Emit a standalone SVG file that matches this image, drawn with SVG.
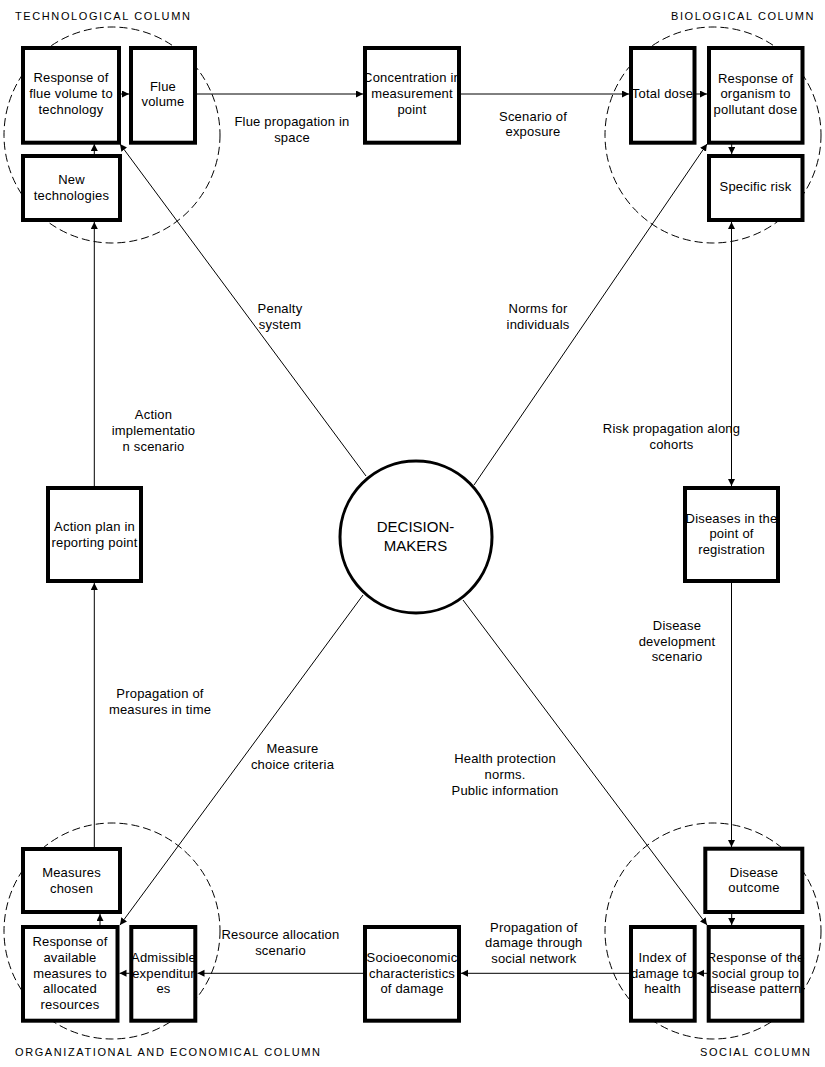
<svg xmlns="http://www.w3.org/2000/svg" width="825" height="1067" viewBox="0 0 825 1067">
<defs>
<marker id="ah" markerWidth="8" markerHeight="8" refX="7" refY="3.5" orient="auto-start-reverse" markerUnits="userSpaceOnUse">
<path d="M0,0 L7,3.5 L0,7 z" fill="#000"/>
</marker>
<style>
.box{fill:#fff;stroke:#000;stroke-width:4}
.zone{fill:none;stroke:#000;stroke-width:1;stroke-dasharray:8 4}
.con{fill:none;stroke:#000;stroke-width:1;marker-end:url(#ah)}
.t{font-family:"Liberation Sans",Arial,sans-serif;font-size:13px;letter-spacing:0.2px;text-anchor:middle;fill:#000}
.col{font-family:"Liberation Sans",Arial,sans-serif;font-size:11px;letter-spacing:1.6px;fill:#000}
.dm{font-family:"Liberation Sans",Arial,sans-serif;font-size:15px;text-anchor:middle;fill:#000}
</style>
</defs>
<rect width="825" height="1067" fill="#fff"/>

<g id="zones">
<circle class="zone" cx="112" cy="135" r="108"/>
<circle class="zone" cx="713" cy="135" r="108"/>
<circle class="zone" cx="112" cy="931" r="108"/>
<circle class="zone" cx="713" cy="931" r="108"/>
</g>

<g id="column-labels">
<text class="col" x="15" y="20">TECHNOLOGICAL COLUMN</text>
<text class="col" x="671" y="20">BIOLOGICAL COLUMN</text>
<text class="col" x="15" y="1056">ORGANIZATIONAL AND ECONOMICAL COLUMN</text>
<text class="col" x="700" y="1056">SOCIAL COLUMN</text>
</g>

<g id="connectors">
<line class="con" x1="94.3" y1="154" x2="94.3" y2="144"/>
<line class="con" x1="121" y1="94" x2="129" y2="94"/>
<line class="con" x1="197" y1="94" x2="363" y2="94"/>
<line class="con" x1="461" y1="94" x2="629" y2="94"/>
<line class="con" x1="696" y1="94" x2="707" y2="94"/>
<line class="con" x1="731.7" y1="144" x2="731.7" y2="154"/>
<line class="con" x1="731.5" y1="222" x2="731.5" y2="486" marker-start="url(#ah)"/>
<line class="con" x1="731.5" y1="583" x2="731.5" y2="847"/>
<line class="con" x1="731.7" y1="914" x2="731.7" y2="925"/>
<line class="con" x1="707" y1="973.3" x2="697" y2="973.3"/>
<line class="con" x1="629" y1="973.3" x2="461" y2="973.3"/>
<line class="con" x1="363" y1="973.3" x2="197.5" y2="973.3"/>
<line class="con" x1="129.5" y1="973.3" x2="119.5" y2="973.3"/>
<line class="con" x1="100" y1="925" x2="100" y2="914"/>
<line class="con" x1="94.3" y1="847" x2="94.3" y2="583"/>
<line class="con" x1="94.3" y1="486" x2="94.3" y2="222"/>
<line class="con" x1="366" y1="476" x2="120" y2="144"/>
<line class="con" x1="474" y1="485" x2="707" y2="144"/>
<line class="con" x1="363" y1="595" x2="120" y2="925"/>
<line class="con" x1="463" y1="600" x2="707" y2="925"/>
</g>

<g id="connector-labels">
<text class="t" x="292" y="126">Flue propagation in</text>
<text class="t" x="292" y="141.5">space</text>
<text class="t" x="533" y="120.7">Scenario of</text>
<text class="t" x="533" y="135.7">exposure</text>
<text class="t" x="280" y="313.3">Penalty</text>
<text class="t" x="280" y="329.3">system</text>
<text class="t" x="538" y="313.3">Norms for</text>
<text class="t" x="538" y="329.3">individuals</text>
<text class="t" x="153.5" y="419.3">Action</text>
<text class="t" x="153.5" y="435">implementatio</text>
<text class="t" x="153.5" y="450.7">n scenario</text>
<text class="t" x="671.5" y="433.3">Risk propagation along</text>
<text class="t" x="671.5" y="449">cohorts</text>
<text class="t" x="677" y="630">Disease</text>
<text class="t" x="677" y="645.7">development</text>
<text class="t" x="677" y="661.3">scenario</text>
<text class="t" x="160" y="698.3">Propagation of</text>
<text class="t" x="160" y="714">measures in time</text>
<text class="t" x="292.5" y="753.3">Measure</text>
<text class="t" x="292.5" y="769">choice criteria</text>
<text class="t" x="505" y="763.3">Health protection</text>
<text class="t" x="505" y="779">norms.</text>
<text class="t" x="505" y="794.7">Public information</text>
<text class="t" x="280.5" y="939.3">Resource allocation</text>
<text class="t" x="280.5" y="955">scenario</text>
<text class="t" x="533.8" y="931.7">Propagation of</text>
<text class="t" x="533.8" y="947.3">damage through</text>
<text class="t" x="533.8" y="963">social network</text>
</g>

<g id="response-flue">
<rect class="box" x="23" y="48" width="96" height="94.7"/>
<text class="t" x="71" y="82">Response of</text>
<text class="t" x="71" y="98">flue volume to</text>
<text class="t" x="71" y="114">technology</text>
</g>
<g id="flue-volume">
<rect class="box" x="131" y="48" width="64" height="94.7"/>
<text class="t" x="163" y="91">Flue</text>
<text class="t" x="163" y="106">volume</text>
</g>
<g id="new-technologies">
<rect class="box" x="23" y="156" width="97" height="64"/>
<text class="t" x="71.5" y="184">New</text>
<text class="t" x="71.5" y="199.5">technologies</text>
</g>
<g id="concentration">
<rect class="box" x="365" y="48" width="94" height="94.7"/>
<text class="t" x="412" y="82">Concentration in</text>
<text class="t" x="412" y="98">measurement</text>
<text class="t" x="412" y="114">point</text>
</g>
<g id="total-dose">
<rect class="box" x="631" y="48" width="63.5" height="94.7"/>
<text class="t" x="662.5" y="98.3">Total dose</text>
</g>
<g id="response-organism">
<rect class="box" x="709" y="48" width="93.5" height="94.7"/>
<text class="t" x="755.5" y="82.5">Response of</text>
<text class="t" x="755.5" y="98.3">organism to</text>
<text class="t" x="755.5" y="114">pollutant dose</text>
</g>
<g id="specific-risk">
<rect class="box" x="709" y="156" width="93.5" height="64"/>
<text class="t" x="755.5" y="191">Specific risk</text>
</g>
<g id="action-plan">
<rect class="box" x="48" y="488" width="93" height="93"/>
<text class="t" x="94.5" y="531">Action plan in</text>
<text class="t" x="94.5" y="547">reporting point</text>
</g>
<g id="diseases">
<rect class="box" x="685" y="488" width="93" height="93"/>
<text class="t" x="731.5" y="522.5">Diseases in the</text>
<text class="t" x="731.5" y="538">point of</text>
<text class="t" x="731.5" y="554">registration</text>
</g>
<g id="decision-makers">
<circle cx="416" cy="537" r="76" fill="#fff" stroke="#000" stroke-width="3"/>
<text class="dm" x="415.5" y="532">DECISION-</text>
<text class="dm" x="415.5" y="550.5">MAKERS</text>
</g>
<g id="measures-chosen">
<rect class="box" x="23" y="849" width="97" height="63"/>
<text class="t" x="71.5" y="877">Measures</text>
<text class="t" x="71.5" y="892.5">chosen</text>
</g>
<g id="response-available">
<rect class="box" x="23" y="927" width="94.5" height="93.7"/>
<text class="t" x="70" y="946">Response of</text>
<text class="t" x="70" y="961.8">available</text>
<text class="t" x="70" y="977.6">measures to</text>
<text class="t" x="70" y="993.4">allocated</text>
<text class="t" x="70" y="1009.2">resources</text>
</g>
<g id="admissible">
<rect class="box" x="131.3" y="927" width="64" height="93.7"/>
<text class="t" x="163.5" y="961.7">Admissible</text>
<text class="t" x="163.5" y="977.5">expenditur</text>
<text class="t" x="163.5" y="993.3">es</text>
</g>
<g id="socioeconomic">
<rect class="box" x="365" y="927" width="94" height="93.7"/>
<text class="t" x="412" y="961.7">Socioeconomic</text>
<text class="t" x="412" y="977.5">characteristics</text>
<text class="t" x="412" y="993.3">of damage</text>
</g>
<g id="index-damage">
<rect class="box" x="631" y="927" width="63.7" height="93.7"/>
<text class="t" x="662.5" y="961.7">Index of</text>
<text class="t" x="662.5" y="977.5">damage to</text>
<text class="t" x="662.5" y="993.3">health</text>
</g>
<g id="response-social">
<rect class="box" x="708.7" y="927" width="93.6" height="93.7"/>
<text class="t" x="755.5" y="961.7">Response of the</text>
<text class="t" x="755.5" y="977.5">social group to</text>
<text class="t" x="755.5" y="993.3">disease pattern</text>
</g>
<g id="disease-outcome">
<rect class="box" x="705.3" y="848.7" width="97" height="63.3"/>
<text class="t" x="754" y="876.7">Disease</text>
<text class="t" x="754" y="892.3">outcome</text>
</g>
</svg>
